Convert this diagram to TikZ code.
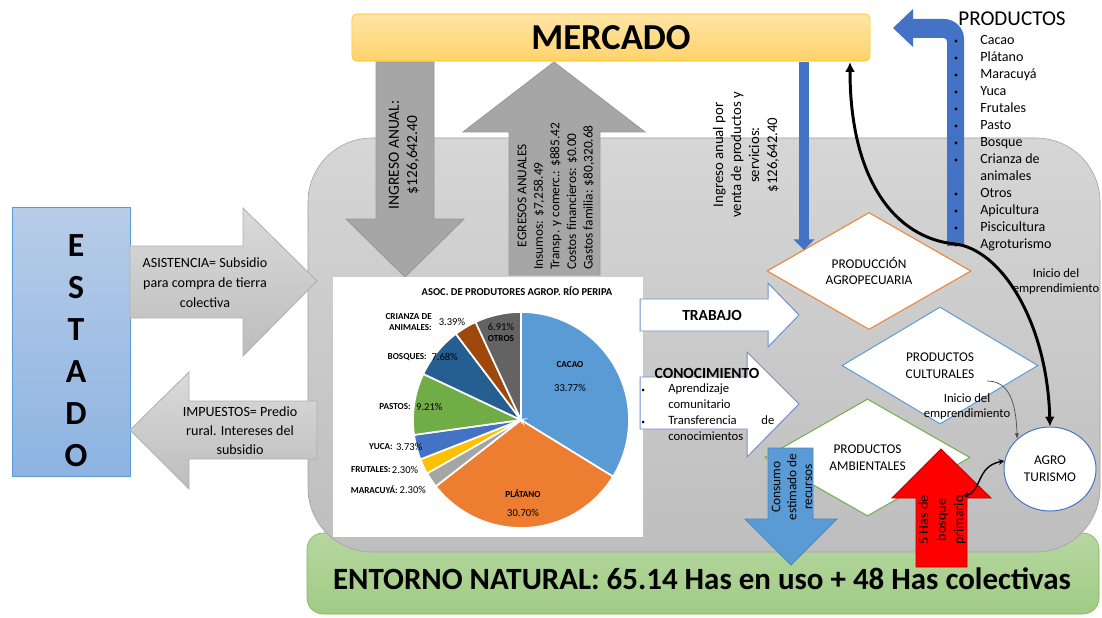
\documentclass[tikz,border=0pt]{standalone}
\usepackage{fontspec}
\setmainfont{Carlito}
\usetikzlibrary{positioning,arrows.meta,shapes.geometric}
\definecolor{BoxTop}{HTML}{D6D6D6}
\definecolor{BoxBot}{HTML}{BEBEBE}
\definecolor{BoxEdge}{HTML}{A0A0A0}
\definecolor{MktTop}{HTML}{FFE4A6}
\definecolor{MktBot}{HTML}{FFD36B}
\definecolor{MktEdge}{HTML}{FFC000}
\definecolor{EstTop}{HTML}{B7CDE8}
\definecolor{EstBot}{HTML}{8DB3E2}
\definecolor{EstEdge}{HTML}{5B9BD5}
\definecolor{EnvTop}{HTML}{B6D7A0}
\definecolor{EnvBot}{HTML}{A0CB84}
\definecolor{EnvEdge}{HTML}{7DB356}
\definecolor{FlowLight}{HTML}{DADADA}
\definecolor{FlowLightB}{HTML}{BDBDBD}
\definecolor{FlowEdge}{HTML}{B0B0B0}
\definecolor{FlowDark}{HTML}{A6A6A6}
\definecolor{FlowDarkEdge}{HTML}{979797}
\definecolor{FlowBlue}{HTML}{4472C4}
\definecolor{LineBlue}{HTML}{6F8FCF}
\definecolor{SkyBlue}{HTML}{5B9BD5}
\definecolor{SkyEdge}{HTML}{4A86C0}
\definecolor{AlertRed}{HTML}{FF0000}
\definecolor{RedEdge}{HTML}{C00000}
\definecolor{AgroOrange}{HTML}{ED7D31}
\definecolor{AgroGreen}{HTML}{70AD47}
\definecolor{PieCacao}{HTML}{5B9BD5}
\definecolor{PiePlatano}{HTML}{ED7D31}
\definecolor{PieMaracuya}{HTML}{A5A5A5}
\definecolor{PieFrutales}{HTML}{FFC000}
\definecolor{PieYuca}{HTML}{4472C4}
\definecolor{PiePastos}{HTML}{70AD47}
\definecolor{PieBosques}{HTML}{255E91}
\definecolor{PieCrianza}{HTML}{9E480E}
\definecolor{PieOtros}{HTML}{636363}
\newcommand{\setfs}[2]{\fontsize{#1pt}{#2pt}\selectfont}

\begin{document}
\begin{tikzpicture}[x=0.025cm,y=-0.025cm,>=Latex]
    \tikzstyle{txt}=[inner sep=0pt,align=center]
    \tikzstyle{flowgray}=[top color=FlowLight,bottom color=FlowLightB,draw=FlowEdge,line width=.6pt]
    \tikzstyle{flowdark}=[fill=FlowDark,draw=FlowDarkEdge,line width=.6pt]
    \tikzstyle{flowwhite}=[fill=white,draw=LineBlue,line width=.7pt]
    \tikzstyle{choice}=[diamond,draw,fill=white,inner sep=0pt,aspect=1.7,align=center,font=\setfs{9.5}{12},line width=.7pt]
    \tikzstyle{pielbl}=[inner sep=0pt,font=\bfseries\setfs{6.5}{7.5},align=right]
    \tikzstyle{piepct}=[inner sep=0pt,font=\setfs{7.5}{9}]
    \tikzstyle{smalltxt}=[inner sep=0pt,align=center,font=\setfs{9}{10.7}]
    \tikzstyle{listitem}=[inner sep=0pt,anchor=west,text height=7pt,text depth=2pt,font=\setfs{10}{12}]
    \useasboundingbox (0,0) rectangle (1102,617);

    \draw[top color=EnvTop,bottom color=EnvBot,draw=EnvEdge,rounded corners=.4cm] (307,533) rectangle (1099,614);
    \draw[top color=BoxTop,bottom color=BoxBot,draw=BoxEdge,rounded corners=1.6cm] (308,138) rectangle (1100,552);

    \node[draw=MktEdge,top color=MktTop,bottom color=MktBot,rounded corners=.12cm,minimum width=12.95cm,minimum height=1.175cm,font=\bfseries\setfs{26}{30}] (mercado) at (611,37.5) {MERCADO};

    \draw[top color=EstTop,bottom color=EstBot,draw=EstEdge,line width=.6pt] (12,207) rectangle (130,476);
    \node[txt,font=\bfseries\setfs{24}{29.9}] (estado) at (76,351) {E\\S\\T\\A\\D\\O};

    \draw[flowgray] (130,246) -- (243,246) -- (243,208) -- (317,281) -- (243,356) -- (243,318) -- (130,318) -- cycle;
    \node[txt,font=\setfs{10}{14.2}] (asist) at (205,283) {ASISTENCIA= Subsidio\\para compra de tierra\\colectiva};
    \draw[flowgray] (317,401) -- (189,401) -- (189,372) -- (130,430) -- (189,489) -- (189,459) -- (317,459) -- cycle;
    \node[txt,font=\setfs{10}{13.5}] (impuestos) at (240,431) {IMPUESTOS= Predio\\rural. Intereses del\\subsidio};

    \draw[flowdark] (376,62) -- (434,62) -- (434,219) -- (464,219) -- (405,277) -- (346,219) -- (376,219) -- cycle;
    \node[txt,rotate=90,font=\setfs{11}{13}] (ingreso) at (404,155) {INGRESO ANUAL:\\\$126,642.40};
    \draw[flowdark] (509,275) -- (509,132) -- (463,132) -- (554,62) -- (645,132) -- (600,132) -- (600,275) -- cycle;
    \node[txt,rotate=90,anchor=west,align=left,font=\setfs{9.5}{11.8}] (egresos) at (556,270) {\hspace*{1.7em}EGRESOS ANUALES\\Insumos: \$7,258.49\\Transp. y comerc.: \$885.42\\Costos financieros: \$0.00\\Gastos familia: \$80,320.68};

    \fill[white] (333,277) rectangle (643,537);
    \node[font=\bfseries\setfs{7.5}{9},inner sep=0pt] (pietitle) at (517,291) {ASOC. DE PRODUTORES AGROP. RÍO PERIPA};
    \begin{scope}[shift={(521,420)},y=0.025cm]
      \foreach \a/\b/\c in {90/-31.57/PieCacao,-31.57/-142.09/PiePlatano,-142.09/-150.37/PieMaracuya,-150.37/-158.65/PieFrutales,-158.65/-172.08/PieYuca,-172.08/-205.24/PiePastos,-205.24/-232.88/PieBosques,-232.88/-245.09/PieCrianza,-245.09/-270/PieOtros}
        \filldraw[fill=\c,draw=white,line width=1.2pt] (0,0) -- (\a:108) arc[start angle=\a,end angle=\b,radius=108] -- cycle;
    \end{scope}
    \node[pielbl] (lcacao) at (570,365) {CACAO};
    \node[piepct] (pcacao) at (570,388) {33.77\%};
    \node[pielbl] (lplatano) at (523,494) {PLÁTANO};
    \node[piepct] (pplatano) at (523,513) {30.70\%};
    \node[piepct] (potros) at (501,327) {6.91\%};
    \node[pielbl] (lotros) at (501,339) {OTROS};
    \node[pielbl,anchor=east] (lcrianza) at (432,322) {CRIANZA DE\\ANIMALES:};
    \node[piepct] (pcrianza) at (452,322) {3.39\%};
    \node[pielbl,anchor=east] (lbosques) at (427,357) {BOSQUES:};
    \node[piepct,right=3pt of lbosques] (pbosques) {7.68\%};
    \node[pielbl,anchor=east] (lpastos) at (411,407) {PASTOS:};
    \node[piepct,right=3.5pt of lpastos] (ppastos) {9.21\%};
    \node[pielbl,anchor=east] (lyuca) at (393,447) {YUCA:};
    \node[piepct,right=2pt of lyuca] (pyuca) {3.73\%};
    \node[pielbl,anchor=east] (lfrutales) at (391,470) {FRUTALES:};
    \node[piepct,right=.5pt of lfrutales] (pfrutales) {2.30\%};
    \node[pielbl,anchor=east] (lmaracuya) at (398,490) {MARACUYÁ:};
    \node[piepct,right=1pt of lmaracuya] (pmaracuya) {2.30\%};

    \draw[flowwhite] (640,299) -- (768,299) -- (768,283) -- (799,315) -- (768,347) -- (768,331) -- (640,331) -- cycle;
    \node[txt,font=\bfseries\setfs{11}{13}] (trabajo) at (712,315) {TRABAJO};
    \draw[flowwhite] (640,377) -- (747,377) -- (747,352) -- (799,404) -- (747,457) -- (747,429) -- (640,429) -- cycle;
    \node[txt,font=\bfseries\setfs{11}{13}] (conoc) at (707,373) {CONOCIMIENTO};
    \node[inner sep=0pt,anchor=north west,text width=2.65cm,align=left,font=\setfs{9}{11.4}] (saberes) at (668,383) {Aprendizaje\\comunitario\\Transferencia\hfill de\\conocimientos};
    \fill (643,390) circle[radius=1.5];
    \fill (643,422) circle[radius=1.5];

    \node[choice,draw=AgroOrange,minimum width=5.1cm,minimum height=2.925cm] (prod) at (869,271) {PRODUCCIÓN\\AGROPECUARIA};
    \node[choice,draw=SkyBlue,minimum width=4.9cm,minimum height=2.925cm] (cult) at (940,365.5) {PRODUCTOS\\CULTURALES};
    \node[choice,draw=AgroGreen,minimum width=5.125cm,minimum height=2.925cm] (amb) at (867.5,457.5) {PRODUCTOS\\AMBIENTALES};
    \node[ellipse,draw=FlowBlue,fill=white,line width=.7pt,minimum width=2.3cm,minimum height=2.1cm,inner sep=0pt,align=center,font=\setfs{9.5}{12}] (agro) at (1050,469) {AGRO\\TURISMO};

    \coordinate (vtop) at (804,62);
    \coordinate (vbot) at (804,250);
    \draw[FlowBlue,line width=7.1pt,-{Triangle[width=14.5pt,length=7.5pt]}] (vtop) -- (vbot);
    \node[txt,rotate=90,font=\setfs{10.5}{12.8}] (venta) at (746,155) {Ingreso anual por\\venta de productos y\\servicios:\\\$126,642.40};

    \fill[FlowBlue] (893,28) -- (913,9) -- (913,19) -- (944,19) .. controls (955,19) and (964,28) .. (964,39) -- (964,246) -- (947,246) -- (947,42) .. controls (947,39) and (946,38) .. (943,38) -- (913,38) -- (913,47) -- cycle;
    \node[inner sep=0pt,font=\setfs{15}{18}] (prodtitle) at (1012,19) {PRODUCTOS};
    \foreach \yy/\txt [count=\i] in {41/Cacao,58/Plátano,75/Maracuyá,92/Yuca,109/Frutales,126/Pasto,143/Bosque,160/Crianza de,194/Otros,211/Apicultura,228/Piscicultura,245/Agroturismo}{
      \node[listitem] (item\i) at (980,\yy) {\txt};
      \fill (956,\yy) circle[radius=1.7];
    }
    \node[listitem] (itemanim) at (980,177) {animales};

    \node[smalltxt] (inicioa) at (1056,282) {Inicio del\\emprendimiento};
    \node[smalltxt] (iniciob) at (967,407) {Inicio del\\emprendimiento};

    \draw[fill=SkyBlue,draw=SkyEdge,line width=.6pt] (768,448) -- (813,448) -- (813,519) -- (837,519) -- (791,565) -- (745,519) -- (768,519) -- cycle;
    \node[txt,rotate=90,font=\setfs{9.5}{11.3}] (consumo) at (792,487) {Consumo\\estimado de\\recursos};
    \draw[fill=AlertRed,draw=RedEdge,line width=.6pt] (916,567) -- (916,498) -- (892,498) -- (941,449) -- (991,498) -- (967,498) -- (967,567) -- cycle;
    \node[txt,rotate=90,font=\setfs{10}{12.5}] (bosque) at (942,520) {5 Has de\\bosque\\primario};

    \node[txt,font=\bfseries\setfs{22}{26}] (entorno) at (702,579) {ENTORNO NATURAL: 65.14 Has en uso + 48 Has colectivas};

    \coordinate (mkt) at (850,62);
    \coordinate (cultx) at (987,381);
    \coordinate (bosq) at (963,496);
    \draw[line width=2.1pt,{Latex[length=7pt,width=7pt]}-{Latex[length=7pt,width=7pt]}] (mkt) .. controls (850,180) and (895,238) .. (955,244) .. controls (1000,249) and (1047,320) .. (agro.north);
    \draw[line width=.5pt,draw=black!70,-{Latex[length=4pt,width=3pt]}] (cultx) .. controls (1008,381) and (1016,400) .. (agro.north west);
    \draw[line width=1pt,{Stealth[length=4pt,width=4pt]}-{Stealth[length=4pt,width=4pt]}] (bosq) .. controls (982,492) and (976,466) .. (agro.170);
\end{tikzpicture}
\end{document}
